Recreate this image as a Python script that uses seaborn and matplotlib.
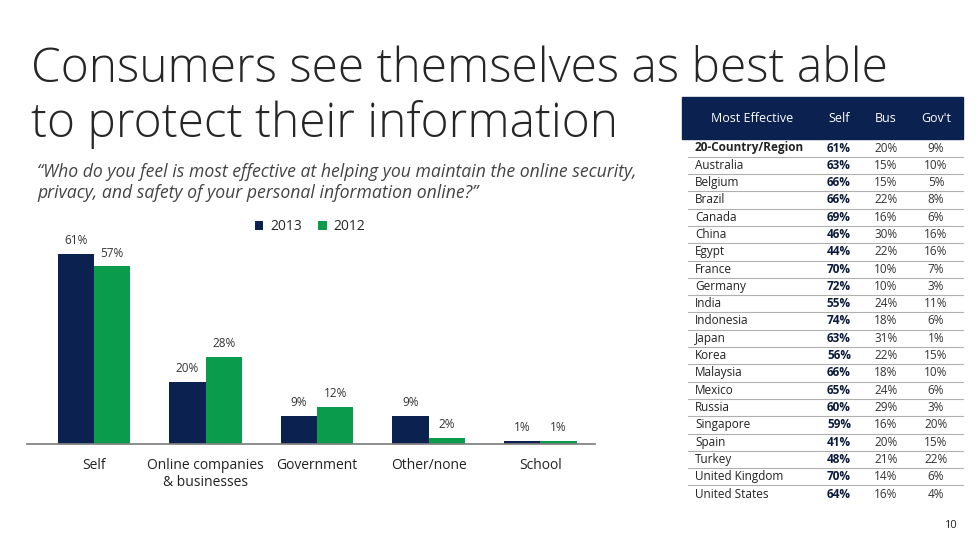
import matplotlib
matplotlib.use('Agg')
import matplotlib.pyplot as plt
import seaborn as sns
import pandas as pd

# Bar chart data
categories = ['Self', 'Online companies\n& businesses', 'Government', 'Other/none', 'School']
pct_2013 = [61, 20, 9, 9, 1]
pct_2012 = [57, 28, 12, 2, 1]
years = ['2013', '2012']

# Table data
countries = ['20-Country/Region', 'Australia', 'Belgium', 'Brazil', 'Canada', 'China', 'Egypt',
             'France', 'Germany', 'India', 'Indonesia', 'Japan', 'Korea', 'Malaysia', 'Mexico',
             'Russia', 'Singapore', 'Spain', 'Turkey', 'United Kingdom', 'United States']
self_pct = [61, 63, 66, 66, 69, 46, 44, 70, 72, 55, 74, 63, 56, 66, 65, 60, 59, 41, 48, 70, 64]
bus_pct = [20, 15, 15, 22, 16, 30, 22, 10, 10, 24, 18, 31, 22, 18, 24, 29, 16, 20, 21, 14, 16]
govt_pct = [9, 10, 5, 8, 6, 16, 16, 7, 3, 11, 6, 1, 15, 10, 6, 3, 20, 15, 22, 6, 4]
table_header = ['Most Effective', 'Self', 'Bus', "Gov't"]
title_lines = ['Consumers see themselves as best able', 'to protect their information']

navy = '#0b2150'
green = '#0a9c4c'

df = pd.DataFrame({
    'category': categories * 2,
    'year': [years[0]] * len(categories) + [years[1]] * len(categories),
    'pct': pct_2013 + pct_2012,
})

sns.set_theme(style='white')
plt.rcParams['font.family'] = ['Open Sans', 'DejaVu Sans']

W, H = 979, 551
fig = plt.figure(figsize=(W / 100, H / 100), dpi=100)


def fx(px):
    return px / W


def fy(py):
    return 1 - py / H


# Title (two separate lines) and question
fig.text(fx(31), fy(82), title_lines[0], ha='left', va='baseline',
         fontsize=34.5, fontweight='light', color='#262626')
fig.text(fx(31), fy(137), title_lines[1], ha='left', va='baseline',
         fontsize=34.5, fontweight='light', color='#262626')
fig.text(fx(37), fy(163), '\u201cWho do you feel is most effective at helping you maintain the online security,\n'
         'privacy, and safety of your personal information online?\u201d',
         ha='left', va='top', fontsize=12.7, style='italic', color='#444444', linespacing=1.25)

# Grouped bar chart
ax = fig.add_axes([fx(27), fy(444), fx(595 - 27), (444 - 226) / H])
sns.barplot(data=df, x='category', y='pct', hue='year', palette=[navy, green],
            width=0.65, saturation=1, linewidth=0, ax=ax)
ax.set_xlim(-0.6, 4.49)
ax.set_ylim(0, 70)
for cont in ax.containers:
    ax.bar_label(cont, fmt='%d%%', padding=5, fontsize=8.5, color='#333333')
ax.set_xlabel('')
ax.set_ylabel('')
ax.set_yticks([])
for s in ['top', 'right', 'left']:
    ax.spines[s].set_visible(False)
ax.spines['bottom'].set_color('#808080')
ax.tick_params(axis='x', length=0, pad=10, labelsize=10, labelcolor='#222222')

handles, labels = ax.get_legend_handles_labels()
ax.legend_.remove()
fig.legend(handles, labels, loc='center', bbox_to_anchor=(fx(310), fy(227)), ncol=2,
           frameon=False, fontsize=10, handlelength=0.6, handleheight=0.6,
           columnspacing=1.2, handletextpad=0.5)

# Table on the right
tax = fig.add_axes([0, 0, 1, 1])
tax.set_xlim(0, W)
tax.set_ylim(H, 0)
tax.axis('off')
tax.add_patch(plt.Rectangle((682, 97), 281, 42, color=navy, zorder=1))
header_x = [752, 839, 886, 936]
for hx, txt in zip(header_x, table_header):
    tax.text(hx, 118, txt, ha='center', va='center', color='white', fontsize=9)

row0, step = 148, 17.3
for i, name in enumerate(countries):
    y = row0 + i * step
    bold = 'bold' if i == 0 else 'normal'
    tax.text(695, y, name, ha='left', va='center', fontsize=8.5, color='#222222', fontweight=bold)
    tax.text(839, y, f'{self_pct[i]}%', ha='center', va='center', fontsize=8.5,
             color='#0b1a3a', fontweight='bold')
    tax.text(886, y, f'{bus_pct[i]}%', ha='center', va='center', fontsize=8.5, color='#333333')
    tax.text(936, y, f'{govt_pct[i]}%', ha='center', va='center', fontsize=8.5, color='#333333')
    if i < len(countries) - 1:
        tax.plot([688, 963], [y + 8.7, y + 8.7], color='#b0b0b0', lw=0.8)

tax.text(950, 525, '10', ha='center', va='center', fontsize=8, color='#222222')

fig.savefig('out.png', dpi=100)
